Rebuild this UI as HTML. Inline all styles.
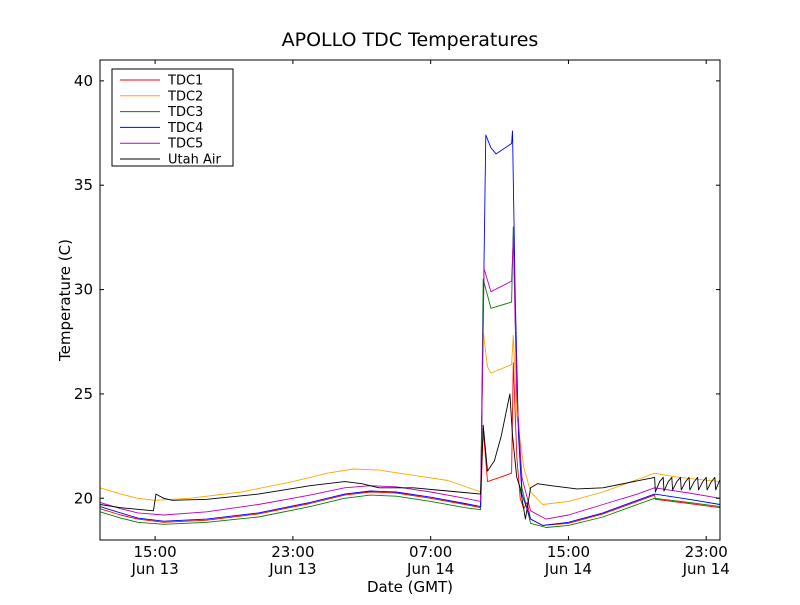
<!DOCTYPE html>
<html><head><meta charset="utf-8"><style>
body{margin:0;background:#fff}
svg text{font-family:"DejaVu Sans","Liberation Sans",sans-serif}
</style></head><body>
<svg id="chart" width="800" height="600" xmlns="http://www.w3.org/2000/svg">
<rect width="800" height="600" fill="#fff"/>
<text x="410" y="46" font-size="19" text-anchor="middle">APOLLO TDC Temperatures</text>
<g id="series"></g>
<g id="axes"></g>
<rect x="100" y="60" width="620" height="480" fill="none" stroke="#000"/>
<text x="410" y="592" font-size="15" text-anchor="middle">Date (GMT)</text>
<text transform="translate(70,300) rotate(-90)" font-size="15" text-anchor="middle">Temperature (C)</text>
<g id="legend">
<rect x="112" y="69" width="121" height="97" fill="#fff" stroke="#000"/>
</g>
</svg>
<script>
const xTickHours=[15,23,31,39,47];
const xTickLabels1=["15:00","23:00","07:00","15:00","23:00"];
const xTickLabels2=["Jun 13","Jun 13","Jun 14","Jun 14","Jun 14"];
const yTicks=[20,25,30,35,40];
const seriesNames=["TDC1","TDC2","TDC3","TDC4","TDC5","Utah Air"];
const seriesColors=["#ff0000","#ffa500","#008000","#0000ff","#bf00bf","#000000"];
const tdc1=[[11.8,19.5],[13,19.2],[14,19.0],[15.5,18.85],[18,18.95],[21,19.25],[24,19.75],[26,20.15],[27.5,20.3],[29,20.25],[31,20.0],[33,19.7],[33.9,19.55],[34.05,23.3],[34.3,20.8],[35,21],[35.7,21.2],[35.8,26.5],[36.0,22],[36.2,20],[36.4,19.5],[36.6,19.8],[36.8,19],[37.5,18.7],[39,18.8],[41,19.25],[43,19.85],[44,20.15],[44.05,19.95],[46,19.75],[47.8,19.55]];
const tdc2=[[11.8,20.5],[13,20.2],[14,20.0],[15,19.9],[17,20.0],[20,20.3],[23,20.8],[25,21.2],[26.5,21.4],[28,21.35],[30,21.1],[32,20.85],[33.9,20.3],[34.05,28],[34.3,26.3],[34.5,26],[35.7,26.4],[35.8,27.8],[36.0,24],[36.4,21.5],[36.8,20.3],[37.5,19.7],[39,19.85],[41,20.3],[43,20.9],[44,21.2],[45,21.05],[46,20.95],[47.8,20.8]];
const tdc3=[[11.8,19.35],[13,19.05],[14,18.85],[15.5,18.75],[18,18.85],[21,19.1],[24,19.6],[26,20.0],[27.5,20.15],[29,20.1],[31,19.85],[33,19.55],[33.9,19.45],[34.05,30.5],[34.5,29.1],[35.7,29.4],[35.8,33],[36.0,25],[36.3,20.5],[36.8,18.8],[37.7,18.6],[39,18.7],[41,19.1],[43,19.7],[44,20.0],[46,19.8],[47.8,19.6]];
const tdc4=[[11.8,19.6],[13,19.3],[14,19.05],[15.5,18.9],[18,19.0],[21,19.3],[24,19.8],[26,20.2],[27.5,20.35],[29,20.3],[31,20.05],[33,19.75],[33.9,19.6],[34.2,37.4],[34.5,36.8],[34.8,36.5],[35.7,37],[35.75,37.6],[35.9,30],[36.1,23],[36.3,20.2],[36.8,19],[37.5,18.7],[39,18.85],[41,19.3],[43,19.9],[44,20.2],[46,19.95],[47.8,19.7]];
const tdc5=[[11.8,19.8],[13,19.5],[14,19.3],[15.5,19.2],[18,19.35],[21,19.7],[24,20.15],[26,20.5],[27.5,20.6],[29,20.55],[31,20.3],[33,20.0],[33.9,19.85],[34.1,31],[34.5,29.9],[35.7,30.4],[35.8,32.5],[36.0,25],[36.3,21],[36.8,19.4],[37.7,19],[39,19.2],[41,19.7],[43,20.2],[44,20.5],[46,20.25],[47.8,20]];
const utah=[[11.8,19.7],[13,19.55],[14.9,19.4],[15.05,20.2],[15.5,20.0],[16,19.9],[18,19.95],[21,20.2],[24,20.6],[26,20.8],[27,20.7],[28,20.5],[30,20.5],[32,20.35],[33.9,20.2],[34.05,23.5],[34.3,21.3],[34.7,21.8],[35.1,23],[35.6,25],[35.75,23],[36.0,21],[36.2,20.5],[36.5,19],[36.8,20.5],[37.2,20.7],[38,20.6],[39.5,20.45],[41,20.5],[44,21],[44.05,20.3],[44.3,20.8],[44.5,21],[44.55,20.35],[44.8,20.8],[45,21],[45.05,20.4],[45.3,20.8],[45.5,21],[45.55,20.4],[45.8,20.8],[46,21],[46.05,20.4],[46.3,20.8],[46.5,21],[46.55,20.4],[46.8,20.8],[47,21],[47.05,20.4],[47.3,20.8],[47.5,21],[47.55,20.4],[47.8,20.9]];
const allSeries=[tdc1,tdc2,tdc3,tdc4,tdc5,utah];
const x0=11.8,x1=47.8,y0=18,y1=41;
function X(h){return 100+(h-x0)/(x1-x0)*620}
function Y(v){return 540-(v-y0)/(y1-y0)*480}
const NS="http://www.w3.org/2000/svg";
const sg=document.getElementById('series'),ax=document.getElementById('axes'),lg=document.getElementById('legend');
allSeries.forEach((s,i)=>{
 const p=document.createElementNS(NS,'polyline');
 p.setAttribute('points',s.map(d=>X(d[0]).toFixed(1)+','+Y(d[1]).toFixed(1)).join(' '));
 p.setAttribute('fill','none');p.setAttribute('stroke',seriesColors[i]);p.setAttribute('stroke-width','0.9');
 p.setAttribute('stroke-linejoin','round');
 
 
 sg.appendChild(p);
});
function mk(tag,attrs,txt){const e=document.createElementNS(NS,tag);for(const k in attrs)e.setAttribute(k,attrs[k]);if(txt!==undefined)e.textContent=txt;return e;}
xTickHours.forEach((h,i)=>{
 const x=X(h);
 const t1=mk('line',{x1:x,x2:x,y1:540,y2:536,stroke:'#000'});
 
 
 ax.appendChild(t1);
 const t2=mk('line',{x1:x,x2:x,y1:60,y2:64,stroke:'#000'});
 
 
 ax.appendChild(t2);
 const l1=mk('text',{x:x,y:557,'font-size':15,'text-anchor':'middle'},xTickLabels1[i]);
 
 
 ax.appendChild(l1);
 const l2=mk('text',{x:x,y:574,'font-size':15,'text-anchor':'middle'},xTickLabels2[i]);
 
 
 ax.appendChild(l2);
});
yTicks.forEach(v=>{
 const y=Y(v);
 const t1=mk('line',{x1:100,x2:104,y1:y,y2:y,stroke:'#000'});
 
 
 ax.appendChild(t1);
 const t2=mk('line',{x1:716,x2:720,y1:y,y2:y,stroke:'#000'});
 
 
 ax.appendChild(t2);
 const l=mk('text',{x:93,y:y+5,'font-size':15,'text-anchor':'end'},String(v));
 
 
 ax.appendChild(l);
});
seriesNames.forEach((n,i)=>{
 const y=80+i*15.8;
 const ln=mk('line',{x1:120,x2:160,y1:y,y2:y,stroke:seriesColors[i],'stroke-width':1});
 
 
 lg.appendChild(ln);
 const t=mk('text',{x:168,y:y+4.5,'font-size':13},n);
 
 
 lg.appendChild(t);
});
</script>
</body></html>
